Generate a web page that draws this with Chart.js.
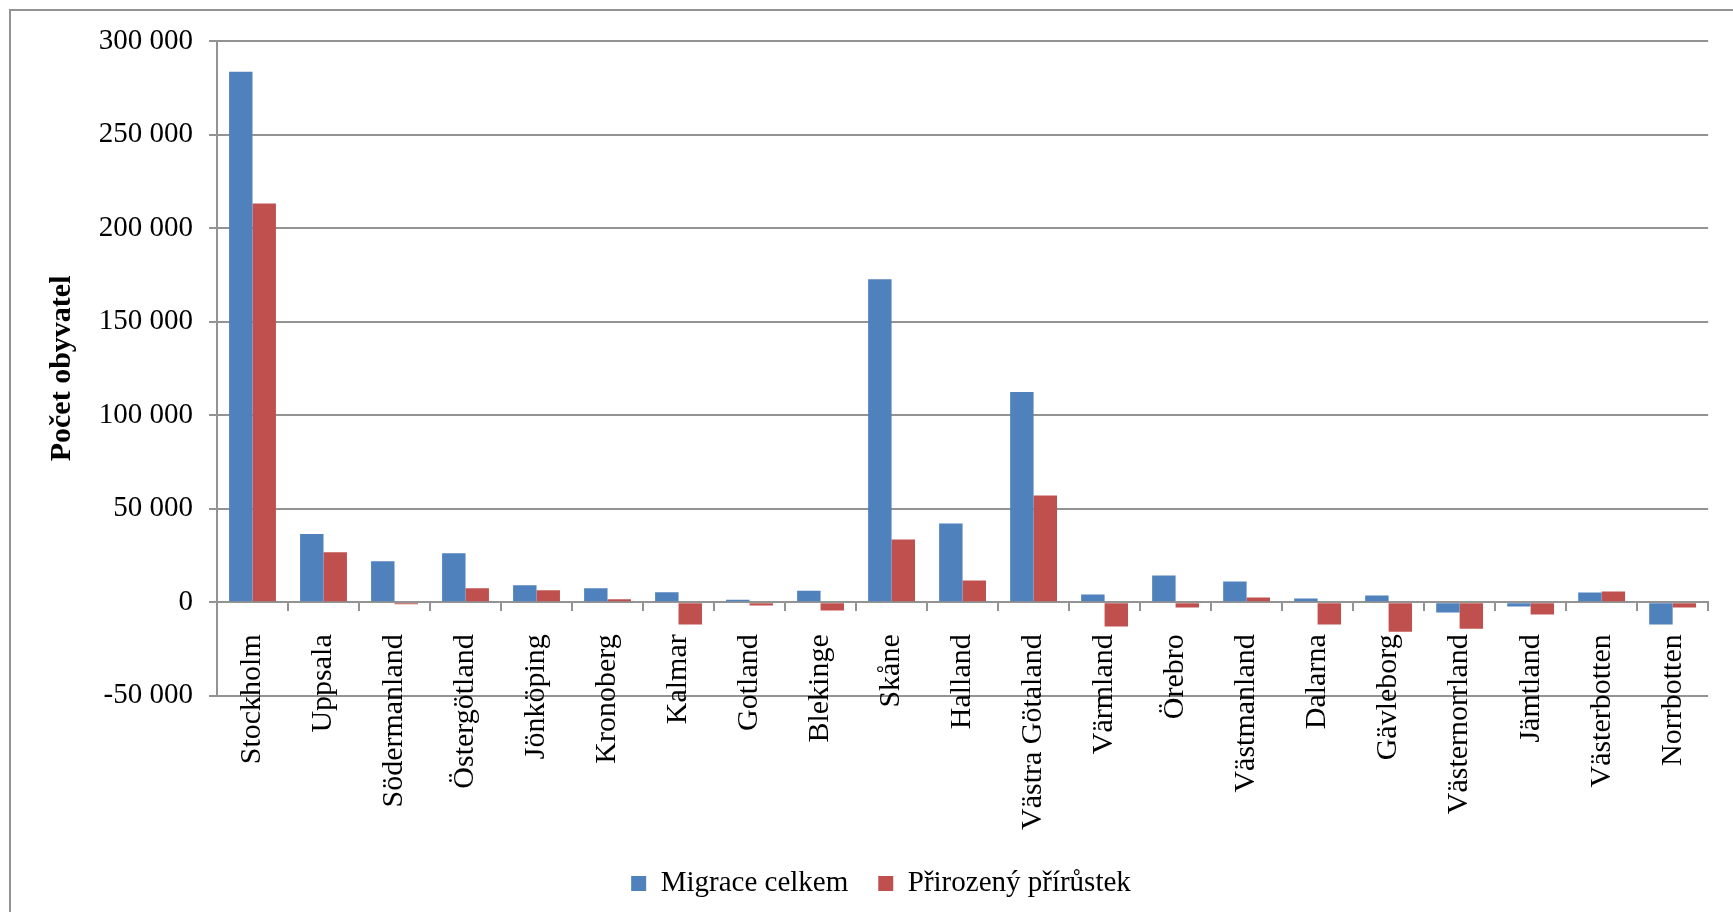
<!DOCTYPE html>
<html lang="cs">

<head>
    <meta charset="utf-8">
    <title>Počet obyvatel</title>
    <script src="https://cdn.jsdelivr.net/npm/chart.js@4.4.0/dist/chart.umd.min.js"></script>
    <style>
        html, body {
            margin: 0;
            padding: 0;
            background: #fff;
        }

        .wrap {
            position: relative;
            width: 1733px;
            height: 912px;
        }
    </style>
</head>

<body>
    <div class="wrap">
        <canvas id="myChart"></canvas>
    </div>

    <script>
        // data
        var kraje = ['Stockholm', 'Uppsala', 'Södermanland', 'Östergötland', 'Jönköping', 'Kronoberg', 'Kalmar',
            'Gotland', 'Blekinge', 'Skåne', 'Halland', 'Västra Götaland', 'Värmland', 'Örebro', 'Västmanland',
            'Dalarna', 'Gävleborg', 'Västernorrland', 'Jämtland', 'Västerbotten', 'Norrbotten'];
        var migrace = [283500, 36500, 21900, 26200, 9100, 7500, 5300, 1400, 6200, 172600, 42100, 112400,
            4100, 14300, 11100, 2000, 3600, -5500, -2300, 5200, -11900];
        var prirozeny = [213100, 26700, -1000, 7500, 6400, 1600, -11900, -1800, -4400, 33500, 11600, 57000,
            -13000, -2800, 2500, -11900, -15700, -14100, -6600, 5700, -2800];
        var nazvyRad = ['Migrace celkem', 'Přirozený přírůstek'];
        var osaY = { min: -50000, max: 300000, krok: 50000 };

        var pismo = 'Liberation Serif, Times New Roman, serif';
        var seda = '#939393';

        // ramecek kolem celeho grafu
        var ramecek = {
            id: 'ramecek',
            afterDraw: function (chart) {
                var c = chart.ctx;
                c.save();
                c.strokeStyle = seda;
                c.lineWidth = 2;
                c.strokeRect(10, 10, 1800, 1000);
                c.restore();
            }
        };

        function mezery(v) {
            return String(v).replace(/\B(?=(\d{3})+(?!\d))/g, ' ');
        }

        var ctx = document.getElementById('myChart').getContext('2d');
        var myChart = new Chart(ctx, {
            type: 'bar',
            data: {
                labels: kraje,
                datasets: [{
                    label: nazvyRad[0],
                    data: migrace,
                    backgroundColor: '#4F81BD'
                }, {
                    label: nazvyRad[1],
                    data: prirozeny,
                    backgroundColor: '#C0504D'
                }]
            },
            options: {
                responsive: true,
                maintainAspectRatio: false,
                animation: false,
                categoryPercentage: 0.66,
                barPercentage: 1,
                layout: {
                    padding: { left: 44, right: 15, top: 41, bottom: 4 }
                },
                plugins: {
                    tooltip: { enabled: false },
                    legend: {
                        position: 'bottom',
                        // prazdny titulek jen odsune legendu od grafu (misto pro popisky osy x)
                        title: {
                            display: true,
                            text: ' ',
                            font: { size: 1 },
                            padding: { top: 142, bottom: 0 }
                        },
                        labels: {
                            boxWidth: 15,
                            boxHeight: 15,
                            padding: 30,
                            color: '#000',
                            font: { family: pismo, size: 29 }
                        }
                    }
                },
                scales: {
                    x: {
                        position: { y: 0 },
                        grid: {
                            offset: true,
                            drawOnChartArea: false,
                            drawTicks: true,
                            tickLength: 8,
                            color: seda,
                            lineWidth: 2
                        },
                        border: { display: true, color: seda, width: 2 },
                        ticks: {
                            autoSkip: false,
                            minRotation: 90,
                            maxRotation: 90,
                            padding: 24,
                            color: '#000',
                            font: { family: pismo, size: 30 }
                        }
                    },
                    y: {
                        min: osaY.min,
                        max: osaY.max,
                        afterFit: function (scale) {
                            scale.width = 173;
                        },
                        grid: {
                            color: seda,
                            lineWidth: 2,
                            tickLength: 8
                        },
                        border: { display: true, color: seda, width: 2 },
                        ticks: {
                            stepSize: osaY.krok,
                            padding: 16,
                            color: '#000',
                            font: { family: pismo, size: 29 },
                            callback: function (v) { return mezery(v); }
                        },
                        title: {
                            display: true,
                            text: 'Počet obyvatel',
                            color: '#000',
                            padding: { top: 0, bottom: 0 },
                            font: { family: pismo, size: 30, weight: 'bold' }
                        }
                    }
                }
            },
            plugins: [ramecek]
        });
    </script>
</body>

</html>
